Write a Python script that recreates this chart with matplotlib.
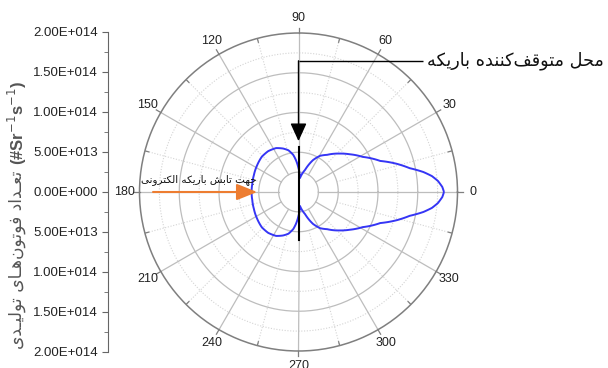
import numpy as np
import matplotlib.pyplot as plt
from matplotlib.patches import FancyArrowPatch, PathPatch
from matplotlib.path import Path
from matplotlib.ticker import FuncFormatter, MultipleLocator

plt.rcParams['font.family'] = ['Liberation Sans', 'DejaVu Sans']

# photon yield vs emission angle, in units of 1e14 (#/sr/s)
theta_deg = [0, 2, 4.5, 6.8, 9.1, 12.1, 15.9, 20.8, 28.7, 36.4, 42.9, 52.4, 59.2, 65.6, 73.5, 83.9,
             90, 94.5, 98, 103.6, 109.5, 117, 126.6, 136.2, 146.9, 159.3, 170.2, 180,
             189.8, 200.7, 213.1, 223.8, 233.4, 243, 250.5, 256.4, 262, 265.5, 270,
             276.1, 286.5, 294.4, 300.8, 307.6, 317.1, 323.6, 331.3, 339.2, 344.1, 347.9,
             350.9, 353.2, 355.5, 358, 360]
photons = [1.83, 1.81, 1.76, 1.69, 1.59, 1.43, 1.29, 1.10, 0.92, 0.80, 0.71, 0.59, 0.53, 0.44, 0.29, 0.177,
           0.30, 0.40, 0.47, 0.54, 0.58, 0.62, 0.64, 0.64, 0.62, 0.60, 0.59, 0.59,
           0.59, 0.60, 0.62, 0.64, 0.64, 0.62, 0.58, 0.54, 0.47, 0.40, 0.30,
           0.177, 0.29, 0.44, 0.53, 0.59, 0.71, 0.80, 0.92, 1.10, 1.29, 1.43,
           1.59, 1.69, 1.76, 1.81, 1.83]

angle_ticks = [0, 30, 60, 90, 120, 150, 180, 210, 240, 270, 300, 330]
r_major = [0.25, 0.5, 1.0, 1.5]
r_minor = [0.75, 1.25, 1.75]
r_max = 2.0

ylabel_fa = 'تعـداد فوتون‌هـای تولیـدی'
stopper_fa = 'محل متوقف‌کننده باریکه'
beam_fa = 'جهت تابش باریکه الکترونی'

# --- minimal Persian shaping (matplotlib has no complex text layout) ---
FORMS = {
    'ا': (0xFE8D, 0xFE8E, None, None), 'د': (0xFEA9, 0xFEAA, None, None),
    'ر': (0xFEAD, 0xFEAE, None, None), 'و': (0xFEED, 0xFEEE, None, None),
    'ب': (0xFE8F, 0xFE90, 0xFE91, 0xFE92), 'ت': (0xFE95, 0xFE96, 0xFE97, 0xFE98),
    'ج': (0xFE9D, 0xFE9E, 0xFE9F, 0xFEA0), 'ح': (0xFEA1, 0xFEA2, 0xFEA3, 0xFEA4),
    'ش': (0xFEB5, 0xFEB6, 0xFEB7, 0xFEB8), 'ع': (0xFEC9, 0xFECA, 0xFECB, 0xFECC),
    'ف': (0xFED1, 0xFED2, 0xFED3, 0xFED4), 'ق': (0xFED5, 0xFED6, 0xFED7, 0xFED8),
    'ل': (0xFEDD, 0xFEDE, 0xFEDF, 0xFEE0), 'م': (0xFEE1, 0xFEE2, 0xFEE3, 0xFEE4),
    'ن': (0xFEE5, 0xFEE6, 0xFEE7, 0xFEE8), 'ه': (0xFEE9, 0xFEEA, 0xFEEB, 0xFEEC),
    'ک': (0xFB8E, 0xFB8F, 0xFB90, 0xFB91), 'ی': (0xFBFC, 0xFBFD, 0xFBFE, 0xFBFF),
}
DUAL = set('بپتثجچحخسشصضطظعغفقکگلمنهیـ')
RIGHT = set('آادذرزژو')


def fa(s):
    out = []
    for i, ch in enumerate(s):
        if ch == '\u200c':
            continue
        if ch not in FORMS:
            out.append(ch)
            continue
        prev = s[i - 1] if i > 0 else ''
        nxt = s[i + 1] if i + 1 < len(s) else ''
        jp = prev in DUAL
        jn = ch in DUAL and (nxt in DUAL or nxt in RIGHT)
        isol, fin, ini, med = FORMS[ch]
        if jp and jn:
            code = med
        elif jp:
            code = fin
        elif jn:
            code = ini
        else:
            code = isol
        out.append(chr(code))
    return ''.join(reversed(out))


fig = plt.figure(figsize=(6.08, 3.68), dpi=100)
box = [139.5 / 608, 17 / 368, 318 / 608, 318 / 368]

ax = fig.add_axes(box, projection='polar')
ax.set_ylim(0, r_max)
ax.grid(False)
ax.set_xticks([])
ax.set_yticks([])
ax.spines['polar'].set_color('#7f7f7f')
ax.spines['polar'].set_linewidth(1.1)

ring = np.linspace(0, 2 * np.pi, 361)
for r in r_major:
    ax.plot(ring, np.full_like(ring, r), color='#bdbdbd', lw=0.9, zorder=1)
for r in r_minor:
    ax.plot(ring, np.full_like(ring, r), color='#d4d4d4', lw=0.8, ls=(0, (1, 1.5)), zorder=1)
for a in range(0, 360, 15):
    t = np.radians(a)
    if a % 30 == 0:
        ax.plot([t, t], [0.25, r_max], color='#bdbdbd', lw=0.9, zorder=1)
        ax.plot([t, t], [r_max, r_max + 0.065], color='#7f7f7f', lw=0.9, clip_on=False)
    else:
        ax.plot([t, t], [0.5, r_max], color='#d4d4d4', lw=0.8, ls=(0, (1, 1.5)), zorder=1)
        ax.plot([t, t], [r_max - 0.05, r_max], color='#7f7f7f', lw=0.9)

for a in angle_ticks:
    ax.text(np.radians(a), 2.19, str(a), ha='center', va='center', fontsize=9, color='#222222')

# curve: segments follow the polar geometry between the read points
curve = Path(np.column_stack([np.radians(theta_deg), photons]), _interpolation_steps=12)
ax.add_patch(PathPatch(curve, fill=False, edgecolor='#3535f5', lw=1.4, zorder=3, joinstyle='round'))

# overlay in the same units for the annotations
ov = fig.add_axes(box)
ov.set_xlim(-r_max, r_max)
ov.set_ylim(-r_max, r_max)
ov.set_aspect('equal')
ov.axis('off')

ov.plot([0, 0], [0.57, -0.60], color='black', lw=1.5, zorder=4)
ov.plot([0, 1.56], [1.65, 1.65], color='black', lw=1.0, solid_capstyle='butt')
ov.add_patch(FancyArrowPatch((0, 1.65), (0, 0.64), arrowstyle='-|>,head_length=1.1,head_width=0.5',
                             mutation_scale=10, color='black', lw=1.0, shrinkA=0, shrinkB=0, zorder=4))
ov.text(1.62, 1.65, fa(stopper_fa), family=['DejaVu Sans'], fontsize=12.7, ha='left', va='center',
        color='#111111', clip_on=False)

ov.add_patch(FancyArrowPatch((-1.83, 0), (-0.52, 0), arrowstyle='-|>,head_length=1.25,head_width=0.5',
                             mutation_scale=10, color='#ed7d31', lw=1.5, shrinkA=0, shrinkB=0, zorder=4))
ov.text(-1.26, 0.16, fa(beam_fa), family=['DejaVu Sans'], fontsize=7.5, ha='center', va='center',
        color='#111111')

# linear radial scale drawn as a separate left axis
ay = fig.add_axes([108 / 608, 16 / 368, 0.0001, 320 / 368])
ay.set_facecolor('none')
ay.set_ylim(-2e14, 2e14)
for s in ['right', 'top', 'bottom']:
    ay.spines[s].set_visible(False)
ay.spines['left'].set_color('#666666')
ay.set_xticks([])
ay.yaxis.set_major_locator(MultipleLocator(0.5e14))
ay.yaxis.set_minor_locator(MultipleLocator(0.25e14))


def sci(v, pos):
    v = abs(v)
    if v < 1:
        return '0.00E+000'
    e = int(np.floor(np.log10(v) + 1e-9))
    return f'{v / 10 ** e:.2f}E+{e:03d}'


ay.yaxis.set_major_formatter(FuncFormatter(sci))
ay.tick_params(axis='y', which='major', length=4, color='#666666', labelsize=9.5, labelcolor='#222222')
ay.tick_params(axis='y', which='minor', length=3, color='#666666')

fig.text(17 / 608, 0.293, fa(ylabel_fa), family=['DejaVu Sans'], fontsize=12.3, rotation=90,
         ha='center', va='center', color='#555555')
fig.text(17 / 608, 0.665, r'(#Sr$^{-1}$s$^{-1}$)', fontsize=12, fontweight='bold', rotation=90,
         ha='center', va='center', color='#555555')

fig.savefig('out.png', dpi=100)
